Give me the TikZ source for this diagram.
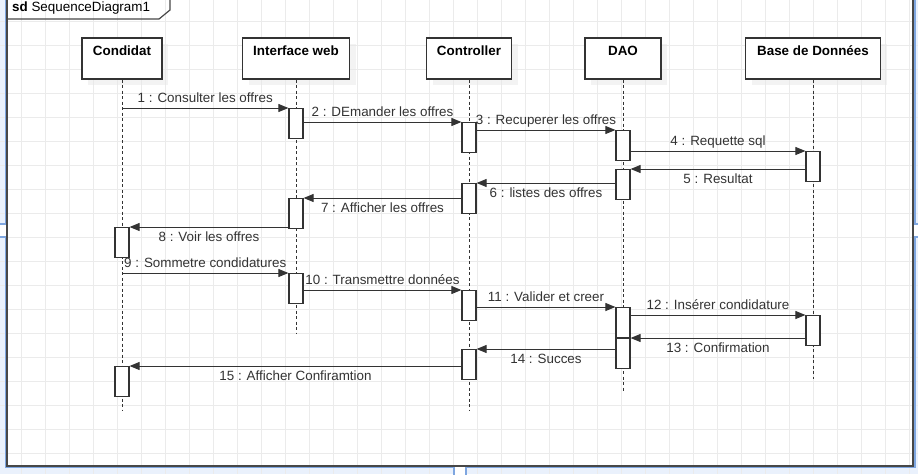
\documentclass[tikz,border=0pt]{standalone}
\usepackage{fontspec}
\setmainfont{Liberation Sans}
\usepackage{tikz}
\usetikzlibrary{arrows.meta,positioning,shadows}

\definecolor{pageblue}{HTML}{7EA6E0}
\definecolor{pagefill}{HTML}{EAF1FC}
\definecolor{gridgray}{HTML}{EBEBEB}
\definecolor{linegray}{HTML}{333333}

\tikzset{
	every node/.style={font=\fontsize{13.4}{16}\selectfont},
	head/.style={draw=linegray, line width=1.2pt, fill=white, minimum height=41pt, inner sep=2pt,
		text height=15.5pt, text depth=21.5pt, font=\fontsize{13.4}{16}\selectfont\bfseries,
		drop shadow={shadow xshift=6pt, shadow yshift=-6pt, fill=black!9, opacity=0.5}},
	act/.style={draw=linegray, line width=1.2pt, fill=white, minimum width=14pt, minimum height=29.5pt,
		inner sep=0pt, anchor=north},
	life/.style={draw=linegray, line width=1pt, dash pattern=on 3pt off 2.5pt},
	msg/.style={draw=linegray, line width=1pt, -{Triangle[length=10pt,width=8pt]}},
	lbla/.style={midway, anchor=base, yshift=6pt, text=linegray},
	lblb/.style={midway, anchor=base, yshift=-14.5pt, text=linegray},
	frame/.style={draw=black!72, line width=1.2pt},
	pageline/.style={draw=pageblue, line width=1.2pt}
}

\begin{document}
\begin{tikzpicture}[x=1pt, y=-1pt]
	
	\useasboundingbox (0,0) rectangle (918,474);
	\fill[white] (0,0) rectangle (918,474);
	
	% page border of the editor
	\fill[pagefill] (0,0) rectangle (5.5,474);
	\fill[pagefill] (915,0) rectangle (918,474);
	\fill[pagefill] (0,467.5) rectangle (918,474);
	\fill[white] (0,224) rectangle (5.5,237);
	\fill[white] (915,224) rectangle (918,237);
	\fill[white] (454,467.5) rectangle (466,474);
	
	\foreach \x in {21,45,...,909}
	{
		\draw[gridgray, line width=0.8pt] (\x,0) -- (\x,474);
	}
	\foreach \y in {21,45,...,453}
	{
		\draw[gridgray, line width=0.8pt] (0,\y) -- (918,\y);
	}
	
	\draw[pageline] (5.5,-2) -- (5.5,224) -- (-2,224);
	\draw[pageline] (-2,237) -- (5.5,237) -- (5.5,467.5) -- (454,467.5) -- (454,476);
	\draw[pageline] (466,476) -- (466,467.5) -- (915,467.5) -- (915,237) -- (920,237);
	\draw[pageline] (920,224) -- (915,224) -- (915,-2);
	
	% frame
	\draw[frame] (7,-3) -- (7,466) -- (913,466) -- (913,-3);
	\draw[frame] (7,19) -- (159,19) -- (170,10) -- (170,-3);
	\node[anchor=base west, inner sep=0pt] (title) at (12,11.5) {\textbf{sd}\ SequenceDiagram1};
	
	% lifelines
	\node[head, minimum width=80pt] (cand) at (122,58.5) {Condidat};
	\node[head, minimum width=107pt] (iw) at (296,58.5) {Interface web};
	\node[head, minimum width=85pt] (ctl) at (469,58.5) {Controller};
	\node[head, minimum width=76pt] (dao) at (623,58.5) {DAO};
	\node[head, minimum width=135pt] (bdd) at (813,58.5) {Base de Données};
	
	\foreach \n/\e in {cand/410, iw/334, ctl/410, dao/392, bdd/379}
	{
		\draw[life] (\n.south) -- (\n.south |- 0,\e);
	}
	
	\foreach \n/\x/\y in {iw1/296/108, ctl1/469/122, dao1/623/130, bdd1/813/151, dao2/623/169,
		ctl2/469/183, iw2/296/198, cand1/122/227, iw3/296/273, ctl3/469/290,
		dao3/623/307, bdd2/813/315, dao4/623/338, ctl4/469/349, cand2/122/366}
	{
		\node[act] (\n) at (\x,\y) {};
	}
	
	% messages
	\draw[msg] (cand |- iw1.north) -- (iw1.north west) node[lbla] {1 : Consulter les offres};
	\draw[msg] (iw1.east |- ctl1.north) -- (ctl1.north west) node[lbla] {2 : DEmander les offres};
	\draw[msg] (ctl1.east |- dao1.north) -- (dao1.north west) node[lbla] {3 : Recuperer les offres};
	\draw[msg] (dao1.east |- bdd1.north) -- (bdd1.north west) node[lbla] {4 : Requette sql};
	\draw[msg] (bdd1.west |- dao2.north) -- (dao2.north east) node[lblb] {5 : Resultat};
	\draw[msg] (dao2.west |- ctl2.north) -- (ctl2.north east) node[lblb] {6 : listes des offres};
	\draw[msg] (ctl2.west |- iw2.north) -- (iw2.north east) node[lblb] {7 : Afficher les offres};
	\draw[msg] (iw2.west |- cand1.north) -- (cand1.north east) node[lblb] {8 : Voir les offres};
	\draw[msg] (cand |- iw3.north) -- (iw3.north west) node[lbla] {9 : Sommetre condidatures};
	\draw[msg] (iw3.east |- ctl3.north) -- (ctl3.north west) node[lbla] {10 : Transmettre données};
	\draw[msg] (ctl3.east |- dao3.north) -- (dao3.north west) node[lbla] {11 : Valider et creer};
	\draw[msg] (dao3.east |- bdd2.north) -- (bdd2.north west) node[lbla] {12 : Insérer condidature};
	\draw[msg] (bdd2.west |- dao4.north) -- (dao4.north east) node[lblb] {13 : Confirmation};
	\draw[msg] (dao4.west |- ctl4.north) -- (ctl4.north east) node[lblb] {14 : Succes};
	\draw[msg] (ctl4.west |- cand2.north) -- (cand2.north east) node[lblb] {15 : Afficher Confiramtion};

\end{tikzpicture}
\end{document}
